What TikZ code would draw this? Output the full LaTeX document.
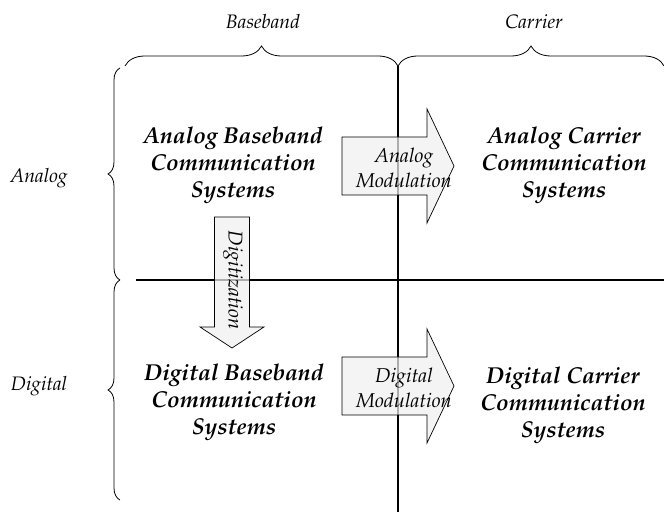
\documentclass[tikz,border=0pt]{standalone}
\usepackage[T1]{fontenc}
\usepackage{mathpazo}
\usepackage{tikz}
\usetikzlibrary{
    decorations.pathreplacing,
    calc,
    positioning
}
\tikzset{sysbox/.style={align=center, font=\fontsize{23}{27}\selectfont\bfseries\itshape}}
\tikzset{axlabel/.style={font=\fontsize{19.5}{23}\selectfont\itshape}}
\tikzset{modlabel/.style={align=center, font=\fontsize{20}{25}\selectfont\itshape}}
\tikzset{graybody/.style={draw=black, line width=0.7pt, fill=black!6, fill opacity=0.72}}
\tikzset{bigbrace/.style={decorate, decoration={brace, amplitude=20pt}, line width=0.8pt}}
\tikzset{sidebrace/.style={decorate, decoration={brace, amplitude=12pt}, line width=0.8pt}}

\begin{document}
\begin{tikzpicture}[x=1pt, y=1pt]
                        \useasboundingbox (0, 0) rectangle (664, 516);

                        \coordinate (vtop) at (398, 450);
                        \coordinate (vbot) at (398, 4);
                        \coordinate (hleft) at (136, 236);
                        \coordinate (hright) at (664, 236);
                        \draw[line width=1.1pt] (vtop) -- (vbot);
                        \draw[line width=1.1pt] (hleft) -- (hright);

                        \coordinate (bb1) at (125, 450);
                        \coordinate (bb2) at (664, 450);
                        \coordinate (lb1) at (120, 448);
                        \coordinate (lb2) at (120, 236);
                        \coordinate (lb3) at (120, 16);
                        \draw[bigbrace] (bb1) -- (vtop);
                        \draw[bigbrace] (vtop) -- (bb2);
                        \draw[sidebrace] (lb2) -- (lb1);
                        \draw[sidebrace] (lb3) -- (lb2);

                        \node[axlabel] (baseband) at (263, 494) {Baseband};
                        \node[axlabel] (carrier) at (534, 494) {Carrier};
                        \node[axlabel] (analog) at (39, 338) {Analog};
                        \node[axlabel] (digital) at (39, 130) {Digital};

                        \node[sysbox] (abase) at (233, 351) {Analog Baseband\\Communication\\Systems};
                        \node[sysbox] (acarr) at (564, 351) {Analog Carrier\\Communication\\Systems};
                        \node[sysbox] (dbase) at (234, 114) {Digital Baseband\\Communication\\Systems};
                        \node[sysbox] (dcarr) at (563, 111) {Digital Carrier\\Communication\\Systems};

                        \begin{scope}[shift={(342, 350)}]
                            \draw[graybody] (0, -29) -- (85, -29) -- (85, -57) -- (112, 0) -- (85, 57) -- (85, 29) -- (0, 29) -- cycle;
                        \end{scope}
                        \node[modlabel] (amod) at (404, 348) {Analog\\Modulation};

                        \begin{scope}[shift={(342, 130)}]
                            \draw[graybody] (0, -29) -- (85, -29) -- (85, -57) -- (112, 0) -- (85, 57) -- (85, 29) -- (0, 29) -- cycle;
                        \end{scope}
                        \node[modlabel] (dmod) at (404, 128) {Digital\\Modulation};

                        \begin{scope}[shift={(232, 299)}]
                            \draw[graybody] (-17.5, 0) -- (17.5, 0) -- (17.5, -110) -- (32, -110) -- (0, -131) -- (-32, -110) -- (-17.5, -110) -- cycle;
                        \end{scope}
                        \node[modlabel, rotate=-90] (digit) at (233, 236) {Digitization};
                    \end{tikzpicture}
\end{document}
